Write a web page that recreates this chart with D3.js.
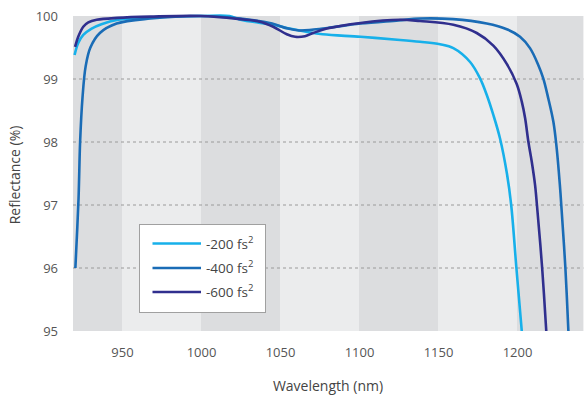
<!DOCTYPE html>
<html>
<head>
<meta charset="utf-8">
<script src="https://cdn.jsdelivr.net/npm/d3@7"></script>
<style>
  html, body { margin: 0; padding: 0; background: #fff; }
  svg { display: block; font-family: "Open Sans", "Noto Sans", sans-serif; }
</style>
</head>
<body>
<svg id="chart" width="584" height="403"></svg>
<script>
// Reflectance of three chirped mirror designs (GDD -200, -400, -600 fs^2)
const wavelength200 = [920, 922.3, 925.5, 930.8, 937, 947.5, 957.6, 979, 1000, 1018, 1025, 1046, 1056, 1066.5, 1077, 1101, 1126, 1138.6, 1151.3, 1159.7, 1170.3, 1176.6, 1180.8, 1185, 1189.2, 1193.6, 1196.3, 1199.6, 1203];
const reflect200    = [99.38, 99.57, 99.70, 99.80, 99.87, 99.94, 99.96, 99.99, 100, 100, 99.94, 99.86, 99.80, 99.75, 99.71, 99.67, 99.62, 99.59, 99.55, 99.49, 99.27, 99.01, 98.75, 98.43, 98.06, 97.50, 97.0, 96.0, 95.0];

const wavelength400 = [920.5, 922.5, 923.5, 925, 927, 930, 936, 946.6, 968, 1000, 1025, 1045, 1055, 1062, 1070, 1080, 1101, 1125, 1138.6, 1159.5, 1180.8, 1193.5, 1201.9, 1208.2, 1213.5, 1216.6, 1219.8, 1223.0, 1225.1, 1227.1, 1228.0, 1230.6, 1232.5];
const reflect400    = [96.0, 97.1, 98.0, 98.7, 99.2, 99.5, 99.73, 99.88, 99.96, 100, 99.96, 99.88, 99.80, 99.77, 99.78, 99.81, 99.88, 99.93, 99.96, 99.95, 99.88, 99.79, 99.67, 99.49, 99.22, 99.01, 98.69, 98.32, 97.90, 97.32, 97.0, 96.0, 95.0];

const wavelength600 = [920.3, 922.3, 925.5, 928.7, 934, 947, 968, 1000, 1024.7, 1037.3, 1045.7, 1054.3, 1059.6, 1065.8, 1071, 1079.6, 1101, 1126, 1138.6, 1159.7, 1174.5, 1185, 1193.5, 1199.8, 1203.0, 1205.1, 1207.2, 1209.3, 1211.4, 1212.6, 1215.9, 1218.5];
const reflect600    = [99.51, 99.67, 99.83, 99.90, 99.94, 99.97, 99.99, 100, 99.95, 99.91, 99.83, 99.71, 99.67, 99.68, 99.73, 99.80, 99.89, 99.94, 99.92, 99.86, 99.73, 99.53, 99.24, 98.92, 98.64, 98.38, 98.0, 97.69, 97.32, 97.0, 96.0, 95.0];

const seriesNames  = ["-200 fs", "-400 fs", "-600 fs"];
const seriesColors = ["#17b0ea", "#1a6cb6", "#302f8e"];

const xTicks = [950, 1000, 1050, 1100, 1150, 1200];
const yTicks = [95, 96, 97, 98, 99, 100];
const gridValues = [96, 97, 98, 99];
const bandEdges = [919, 950, 1000, 1050, 1100, 1150, 1200, 1242];

const series = [
  { name: seriesNames[0], color: seriesColors[0], pts: wavelength200.map((w, i) => [w, reflect200[i]]) },
  { name: seriesNames[1], color: seriesColors[1], pts: wavelength400.map((w, i) => [w, reflect400[i]]) },
  { name: seriesNames[2], color: seriesColors[2], pts: wavelength600.map((w, i) => [w, reflect600[i]]) }
];

const svg = d3.select("#chart");
const x = d3.scaleLinear().domain([919, 1242]).range([73, 583.4]);
const y = d3.scaleLinear().domain([95, 100]).range([331, 16]);

// alternating background bands
const bands = d3.pairs(bandEdges);
svg.append("g").selectAll("rect").data(bands).join("rect")
  .attr("x", d => x(d[0]))
  .attr("y", y(100))
  .attr("width", d => x(d[1]) - x(d[0]))
  .attr("height", y(95) - y(100))
  .attr("fill", (d, i) => i % 2 === 0 ? "#dcdddf" : "#ebeced");

// dashed horizontal grid
svg.append("g").selectAll("line").data(gridValues).join("line")
  .attr("x1", x(919)).attr("x2", x(1242))
  .attr("y1", d => y(d)).attr("y2", d => y(d))
  .attr("stroke", "#9a9a9a").attr("stroke-width", 1)
  .attr("stroke-dasharray", "3,3");

// axes (tick labels only)
const xAxis = svg.append("g").attr("transform", `translate(0,${y(95)})`)
  .call(d3.axisBottom(x).tickValues(xTicks).tickSize(0).tickPadding(17).tickFormat(d3.format("d")));
const yAxis = svg.append("g").attr("transform", `translate(${x(919)},0)`)
  .call(d3.axisLeft(y).tickValues(yTicks).tickSize(0).tickPadding(15).tickFormat(d3.format("d")));
[xAxis, yAxis].forEach(a => {
  a.select(".domain").remove();
  a.selectAll("text").attr("fill", "#555").attr("font-size", 13)
    .attr("font-family", "'Open Sans', 'Noto Sans', sans-serif");
});

// reflectance curves, clipped to the plot area
svg.append("clipPath").attr("id", "plotclip").append("rect")
  .attr("x", x(919)).attr("y", y(100) - 3).attr("width", x(1242) - x(919)).attr("height", y(95) - y(100) + 3);

const line = d3.line().x(d => x(d[0])).y(d => y(d[1])).curve(d3.curveCatmullRom.alpha(0.5));
svg.append("g").attr("clip-path", "url(#plotclip)")
  .selectAll("path").data(series).join("path")
  .attr("d", d => line(d.pts))
  .attr("fill", "none")
  .attr("stroke", d => d.color)
  .attr("stroke-width", 2.6)
  .attr("stroke-linejoin", "round");

// legend
const legend = svg.append("g");
legend.append("rect")
  .attr("x", 139.5).attr("y", 224.5).attr("width", 126).attr("height", 88)
  .attr("fill", "#fff").attr("stroke", "#a0a0a0").attr("stroke-width", 1);
const rowY = [243.5, 268, 292];
series.forEach((s, i) => {
  legend.append("line")
    .attr("x1", 152.5).attr("x2", 201).attr("y1", rowY[i]).attr("y2", rowY[i])
    .attr("stroke", s.color).attr("stroke-width", 2.6);
  const t = legend.append("text")
    .attr("x", 206).attr("y", rowY[i] + 5)
    .attr("fill", "#444").attr("font-size", 13.5);
  t.append("tspan").text(s.name);
  t.append("tspan").attr("dy", -6).attr("font-size", 9.5).text("2");
});

// axis titles
svg.append("text")
  .attr("x", 328).attr("y", 391)
  .attr("text-anchor", "middle").attr("fill", "#444").attr("font-size", 14)
  .text("Wavelength (nm)");
svg.append("text")
  .attr("transform", `translate(20,175) rotate(-90)`)
  .attr("text-anchor", "middle").attr("fill", "#444").attr("font-size", 14)
  .text("Reflectance (%)");
</script>
</body>
</html>
